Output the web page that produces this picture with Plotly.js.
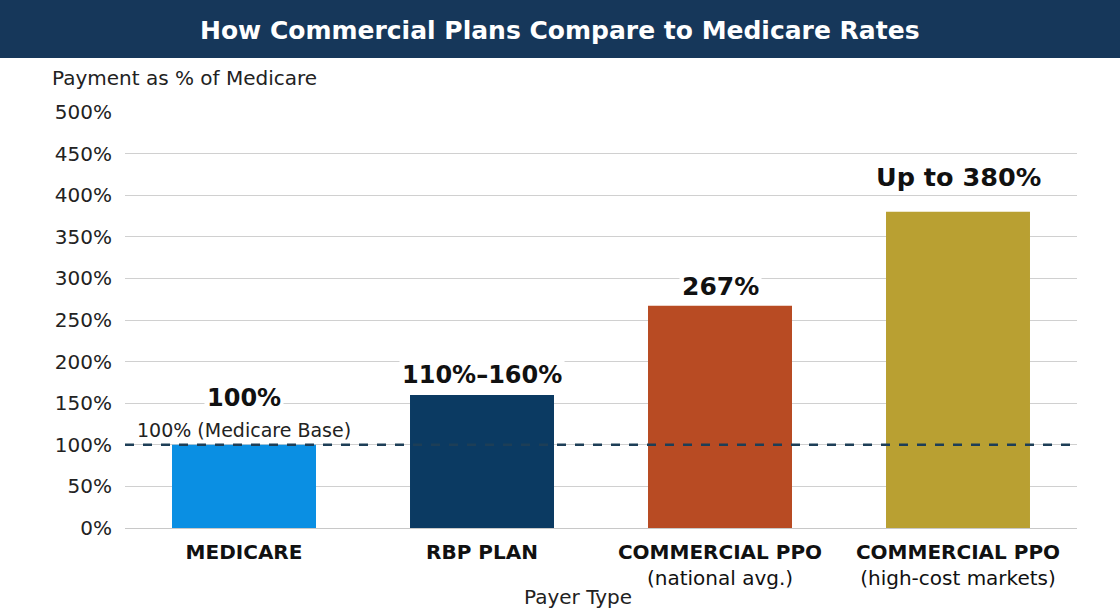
<!DOCTYPE html>
<html>
<head>
<meta charset="utf-8">
<script src="https://cdn.plot.ly/plotly-3.0.1.min.js"></script>
<style>html,body{margin:0;padding:0;background:#fff;}#chart{width:1120px;height:615px;}</style>
</head>
<body>
<div id="chart"></div>
<script>
const categories = ["MEDICARE", "RBP PLAN", "COMMERCIAL PPO (national avg.)", "COMMERCIAL PPO (high-cost markets)"];
const tickLabels = ["<b>MEDICARE</b>", "<b>RBP PLAN</b>", "<b>COMMERCIAL PPO</b><br>(national avg.)", "<b>COMMERCIAL PPO</b><br>(high-cost markets)"];
const paymentPct = [100, 160, 267, 380];
const valueLabels = ["100%", "110%–160%", "267%", "Up to 380%"];
const barColors = ["#0a8fe3", "#0b3a62", "#b84b23", "#b9a032"];
const medicareBase = 100;
const baseLabel = "100% (Medicare Base)";
const yTicks = [0, 50, 100, 150, 200, 250, 300, 350, 400, 450, 500];

const FONT = "DejaVu Sans, Open Sans, sans-serif";
const labelShift = [47, 20, 19, 35];
const labelSize = [24, 24, 25, 25.5];

const W = 1120, H = 615, ML = 125, MR = 43, MT = 112, MB = 87;
const PW = W - ML - MR, PH = H - MT - MB;
const px = x => (x - ML) / PW;
const py = y => (H - MB - y) / PH;

const trace = {
  type: "bar",
  x: categories,
  y: paymentPct,
  marker: {color: barColors, line: {width: 0}},
  width: 0.605,
  hoverinfo: "skip"
};

const annotations = valueLabels.map((t, i) => ({
  x: categories[i], y: paymentPct[i], xref: "x", yref: "y",
  text: "<b>" + t + "</b>", showarrow: false,
  yanchor: "middle", yshift: labelShift[i],
  font: {family: FONT, size: labelSize[i], color: "#111"},
  bgcolor: "#ffffff", borderpad: 2
}));
annotations.push({
  x: px(135), xref: "paper", y: medicareBase, yref: "y",
  text: baseLabel, showarrow: false, xanchor: "left", yanchor: "middle", yshift: 15,
  font: {family: FONT, size: 19, color: "#222"}, bgcolor: "#ffffff"
});
annotations.push({
  x: px(50), xref: "paper", y: py(78), yref: "paper",
  text: "Payment as % of Medicare", showarrow: false, xanchor: "left", yanchor: "middle",
  font: {family: FONT, size: 20, color: "#222"}
});
annotations.push({
  x: px(578), xref: "paper", y: py(597), yref: "paper",
  text: "Payer Type", showarrow: false, xanchor: "center", yanchor: "middle",
  font: {family: FONT, size: 20, color: "#222"}
});
annotations.push({
  x: px(560), xref: "paper", y: py(30), yref: "paper",
  text: "<b>How Commercial Plans Compare to Medicare Rates</b>", showarrow: false,
  xanchor: "center", yanchor: "middle",
  font: {family: FONT, size: 25, color: "#ffffff"}
});

const layout = {
  width: W, height: H,
  margin: {l: ML, r: MR, t: MT, b: MB},
  paper_bgcolor: "#ffffff", plot_bgcolor: "#ffffff",
  showlegend: false,
  xaxis: {
    type: "category", range: [-0.5, 3.5],
    tickvals: categories, ticktext: tickLabels,
    tickfont: {family: FONT, size: 20, color: "#111"},
    showgrid: false, zeroline: false, showline: false, ticks: "",
    ticklabelstandoff: 10
  },
  yaxis: {
    range: [0, 500], tickvals: yTicks, ticktext: yTicks.map(v => v + "%"),
    tickfont: {family: FONT, size: 20, color: "#222"},
    showgrid: true, gridcolor: "#d0d0d0", gridwidth: 1,
    zeroline: true, zerolinecolor: "#c8c8c8", zerolinewidth: 1,
    showline: false, ticks: "", ticklabelstandoff: 12
  },
  shapes: [
    {type: "rect", xref: "paper", yref: "paper", x0: px(0), x1: px(W), y0: py(58), y1: py(0),
     fillcolor: "#16375a", line: {width: 0}, layer: "below"},
    {type: "line", xref: "paper", yref: "y", x0: 0, x1: 1, y0: medicareBase, y1: medicareBase,
     line: {color: "#1d3e57", width: 2.5, dash: "dash"}, layer: "above"}
  ],
  annotations: annotations,
  bargap: 0.395
};

Plotly.newPlot("chart", [trace], layout, {displayModeBar: false, staticPlot: true});
</script>
</body>
</html>
